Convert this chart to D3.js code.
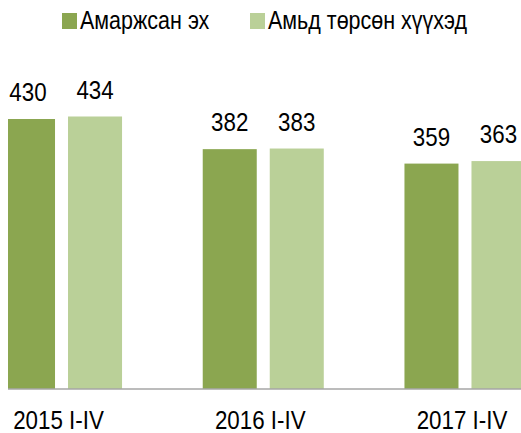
<!DOCTYPE html>
<html><head><meta charset="utf-8">
<script src="https://cdn.jsdelivr.net/npm/d3@7"></script>
<style>html,body{margin:0;padding:0;background:#fff;}svg{display:block;}</style>
</head><body>
<script>
const categories = ["2015 I-IV", "2016 I-IV", "2017 I-IV"];
const seriesNames = ["Амаржсан эх", "Амьд төрсөн хүүхэд"];
const mothers = [430, 382, 359];
const births = [434, 383, 363];
const colors = ["#8ba650", "#bad098"];

const W = 521, H = 433;
const svg = d3.select("body").append("svg").attr("width", W).attr("height", H);
const font = "Liberation Sans, Arial, sans-serif";
const SX = 0.86;

svg.append("defs").append("clipPath").attr("id", "clip")
  .append("rect").attr("x", 8).attr("y", 0).attr("width", W - 8).attr("height", H);

const x0 = d3.scaleBand().domain(categories).range([1, 525.5]).paddingInner(0.4).paddingOuter(0);
const x1 = d3.scaleBand().domain(seriesNames).range([0, x0.bandwidth()]).paddingInner(0.194).paddingOuter(0);
const y = d3.scaleLinear().domain([0, 434]).range([389, 116.5]);

const data = categories.map((c, i) => ({cat: c, vals: [mothers[i], births[i]]}));

const g = svg.append("g").attr("clip-path", "url(#clip)");

const groups = g.selectAll("g.grp").data(data).enter().append("g")
  .attr("transform", d => `translate(${x0(d.cat)},0)`);

groups.selectAll("rect").data(d => d.vals.map((v, j) => ({s: seriesNames[j], v, j})))
  .enter().append("rect")
  .attr("x", d => x1(d.s))
  .attr("y", d => y(d.v))
  .attr("width", x1.bandwidth())
  .attr("height", d => y(0) - y(d.v))
  .attr("fill", d => colors[d.j]);

// value labels
groups.selectAll("text").data(d => d.vals.map((v, j) => ({s: seriesNames[j], v, j})))
  .enter().append("text")
  .attr("transform", d => `translate(${x1(d.s) + x1.bandwidth() / 2},${y(d.v) - 18}) scale(${SX},1)`)
  .attr("text-anchor", "middle")
  .attr("font-family", font).attr("font-size", 26).attr("fill", "#000")
  .text(d => d.v);

// baseline axis
const xAxis = d3.axisBottom(x0).tickSize(0).tickPadding(0);
const axG = svg.append("g").attr("transform", `translate(0,${y(0)})`).call(xAxis);
axG.select(".domain").attr("stroke", "#a6a6a6").attr("stroke-width", 1.5)
  .attr("d", `M8,0H${W}`);
axG.selectAll(".tick text")
  .attr("font-family", font).attr("font-size", 26).attr("fill", "#000")
  .attr("dy", 0).attr("y", 0)
  .attr("transform", `translate(-3,40) scale(${SX},1)`);

// legend
const legendX = [62, 250];
const leg = svg.append("g");
seriesNames.forEach((s, i) => {
  leg.append("rect").attr("x", legendX[i]).attr("y", 13).attr("width", 15).attr("height", 16).attr("fill", colors[i]);
  leg.append("text")
    .attr("transform", `translate(${legendX[i] + 18},29) scale(${SX},1)`)
    .attr("font-family", font).attr("font-size", 25).attr("fill", "#000")
    .text(s);
});
</script>
</body></html>
